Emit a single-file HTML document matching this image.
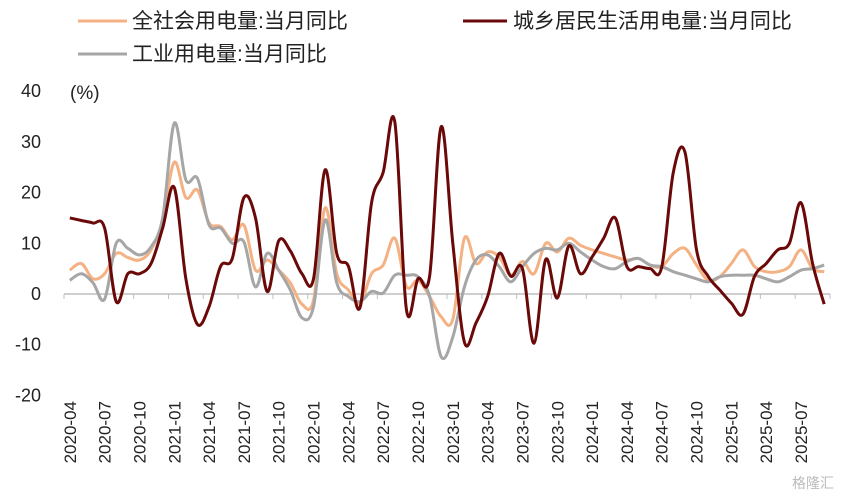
<!DOCTYPE html>
<html><head><meta charset="utf-8"><style>
html,body{margin:0;padding:0;background:#fff;}
svg{display:block;font-family:"Liberation Sans","Noto Sans CJK SC",sans-serif;}
</style></head><body>
<svg id="chart" width="859" height="496" viewBox="0 0 859 496">
<g>
 <g>
  <line x1="78" y1="21" x2="127" y2="21" stroke="#F4B183" stroke-width="3"/>
  <text x="132" y="28" font-size="21" fill="#222">全社会用电量:当月同比</text>
 </g>
 <g>
  <line x1="463" y1="21" x2="507" y2="21" stroke="#6B0808" stroke-width="3"/>
  <text x="513" y="28" font-size="21" fill="#222">城乡居民生活用电量:当月同比</text>
 </g>
 <g>
  <line x1="78" y1="54" x2="127" y2="54" stroke="#A6A6A6" stroke-width="3"/>
  <text x="132" y="61" font-size="21" fill="#222">工业用电量:当月同比</text>
 </g>
</g>
<text x="70" y="99" font-size="19" fill="#222">(%)</text>
<g id="yaxis"></g>
<g id="xaxis"></g>
<g id="series"></g>
<text x="792" y="488" font-size="14" fill="#bbb">格隆汇</text>
</svg>
<script>
const startYear = 2020, startMonth = 4;
const yTicks = [40, 30, 20, 10, 0, -10, -20];
const totalSeries = [4.7,6,3,4,8,7.2,6.7,8.7,14.6,26,19,20.5,14,13.3,10.7,13.6,4.7,6.7,4.7,2.2,-2,-1.2,17,4,0.8,-1.8,4,5.7,11,1.5,2.7,-0.5,-4.5,-5,11,6,8.3,7.3,3.7,6.4,4,10,8.3,11,9.6,8.7,8,7.3,6.7,7,5.7,5.4,8,9,5.7,2.7,3.4,6,8.7,5.4,4.4,4.4,5.4,8.7,5,4.4];
const residentialSeries = [15,14.5,14,13,-1.5,4,4,6,13,21,3,-6,-2.5,5.5,7,19,15,0.5,10.5,8.5,4,3,24.5,8,5.5,-2.7,18,24,34,-3,3,3.5,33,10,-9.5,-5.7,-0.5,8,3.5,5,-9.7,6.8,-0.8,9.5,4,7.3,11,15,5.4,5.4,5,5.3,24,28,8.7,3.5,0.8,-1.8,-4,3.5,6,8.7,10,18,6,-2];
const industrialSeries = [2.7,4,2.2,-1,10,9,7.7,9.3,15,33.7,22.5,22.8,13.6,13,10,10.3,1.4,8,4.7,0.8,-4.7,-2.5,14.6,2.2,-0.5,-1.5,0.5,0.2,3.7,3.7,3.4,-0.5,-12.4,-8.5,1.4,6.7,7.7,5.4,2.4,5.4,8,9,8.7,10,8.3,6.7,5.4,5,6.4,7,5.7,5.4,4.4,3.7,3,2.4,3.4,3.7,3.7,3.7,3,2.4,3.4,4.7,5,5.7];

const NS = "http://www.w3.org/2000/svg";
const X0 = 64, X1 = 830, nCat = totalSeries.length;
const step = (X1 - X0) / nCat;
function xScale(i){ return X0 + step * (i + 0.5); }
function yScale(v){ return 294 - v * 5.07; }
function mk(tag, attrs, parent){ const e=document.createElementNS(NS,tag); for(const k in attrs) e.setAttribute(k,attrs[k]); parent.appendChild(e); return e; }

const yg = document.getElementById('yaxis');
yTicks.forEach(v=>{
  const t = mk('text',{x:41,y:yScale(v)+6,'text-anchor':'end','font-size':18,fill:'#222'},yg);
  
  
  t.textContent = v;
});

const xg = document.getElementById('xaxis');
const axis = mk('line',{x1:X0,y1:yScale(0),x2:X1,y2:yScale(0),stroke:'#bfbfbf','stroke-width':1.5},xg);


for(let i=0;i<=nCat;i+=3){
  const tk = mk('line',{x1:X0+step*i,y1:yScale(0),x2:X0+step*i,y2:yScale(0)+5,stroke:'#bfbfbf','stroke-width':1},xg);
  
  
}
for(let i=0;i<nCat;i+=3){
  const m0 = startMonth - 1 + i;
  const y = startYear + Math.floor(m0/12), m = m0%12 + 1;
  const lbl = y + '-' + String(m).padStart(2,'0');
  const cx = xScale(i)+6;
  const t = mk('text',{x:cx,y:401,'text-anchor':'end','font-size':17,fill:'#222',transform:`rotate(-90 ${cx} 401)`},xg);
  
  
  t.textContent = lbl;
}

function smoothPath(vals){
  const p = vals.map((v,i)=>[xScale(i),yScale(v)]);
  let d = `M${p[0][0]},${p[0][1]}`;
  for(let i=0;i<p.length-1;i++){
    const a=p[i-1]||p[i], b=p[i], c=p[i+1], e=p[i+2]||c;
    const t=0.17;
    d += ` C${b[0]+(c[0]-a[0])*t},${b[1]+(c[1]-a[1])*t} ${c[0]-(e[0]-b[0])*t},${c[1]-(e[1]-b[1])*t} ${c[0]},${c[1]}`;
  }
  return d;
}
const sg = document.getElementById('series');
const p1 = mk('path',{d:smoothPath(totalSeries),fill:'none',stroke:'#F4B183','stroke-width':3,'stroke-linejoin':'round'},sg);


const p2 = mk('path',{d:smoothPath(industrialSeries),fill:'none',stroke:'#A6A6A6','stroke-width':3,'stroke-linejoin':'round'},sg);


const p3 = mk('path',{d:smoothPath(residentialSeries),fill:'none',stroke:'#6B0808','stroke-width':3,'stroke-linejoin':'round'},sg);


</script>
</body></html>
